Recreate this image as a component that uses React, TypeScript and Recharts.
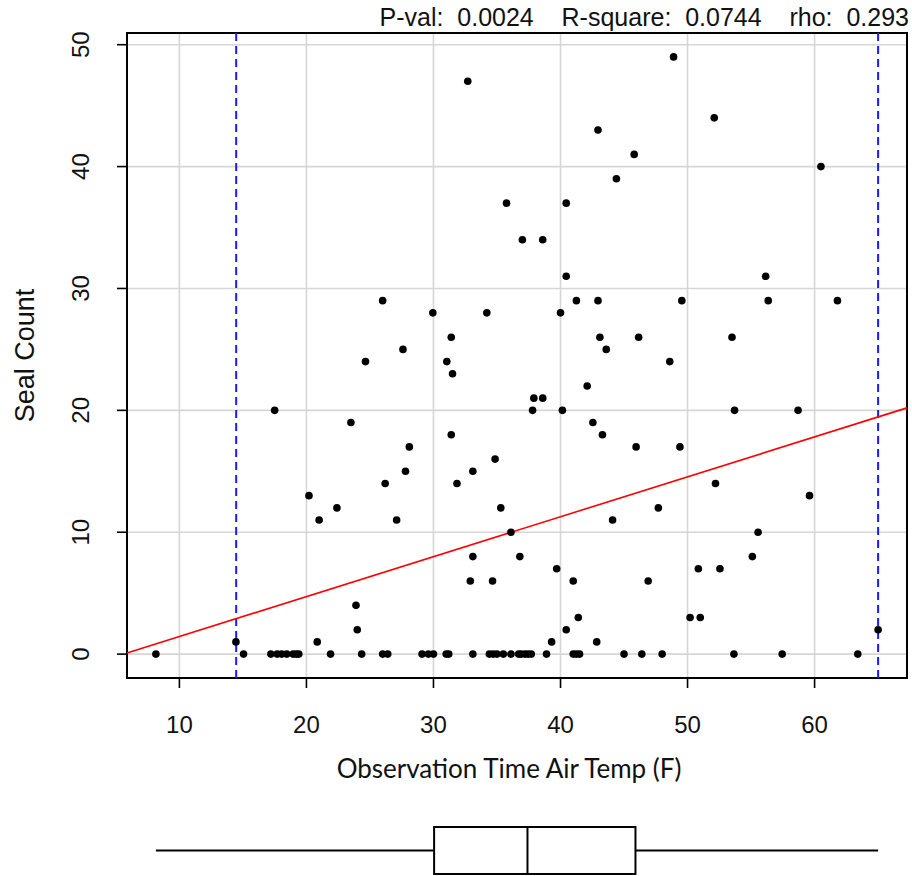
import React from 'react';
import {
  ScatterChart,
  Scatter,
  XAxis,
  YAxis,
  CartesianGrid,
  ReferenceLine,
  ReferenceArea,
  Label,
} from 'recharts';

// ---- data ----
const zeroTemps = [
  8.15, 15.05, 17.2, 17.7, 18.05, 18.45, 18.95, 19.2, 19.4, 21.9, 24.35, 26.0, 26.4,
  29.1, 29.6, 30.0, 31.0, 31.2, 33.1, 34.4, 34.7, 35.0, 35.5, 36.1, 36.7, 36.9, 37.2,
  37.45, 37.7, 38.9, 41.0, 41.25, 41.5, 45.0, 46.4, 48.0, 53.65, 57.45, 63.4,
];

const tempF = [
  48.9, 32.7, 52.1, 42.95, 45.8, 60.5, 44.4, 35.75, 40.45, 37.0, 38.6, 40.45, 56.15,
  26.0, 41.25, 42.95, 49.55, 56.35, 61.8, 29.95, 34.2, 40.0, 31.4, 43.1, 46.15, 53.5,
  27.6, 43.6, 24.65, 31.05, 48.6, 31.5, 42.1, 37.9, 38.6, 17.5, 37.8, 40.15, 53.7, 58.7,
  23.5, 42.55, 31.4, 43.3, 28.1, 45.95, 49.4, 34.85, 27.8, 33.1, 26.2, 31.85, 52.2,
  20.2, 59.6, 22.4, 35.3, 47.7, 21.0, 27.1, 44.1, 36.1, 55.55, 33.1, 36.8, 55.1,
  39.7, 50.85, 52.55, 32.9, 34.65, 41.0, 46.9, 23.9, 41.4, 50.2, 51.0, 24.0, 40.45, 65.0,
  14.45, 20.85, 39.3, 42.85,
];

const sealCount = [
  49, 47, 44, 43, 41, 40, 39, 37, 37, 34, 34, 31, 31,
  29, 29, 29, 29, 29, 29, 28, 28, 28, 26, 26, 26, 26,
  25, 25, 24, 24, 24, 23, 22, 21, 21, 20, 20, 20, 20, 20,
  19, 19, 18, 18, 17, 17, 17, 16, 15, 15, 14, 14, 14,
  13, 13, 12, 12, 12, 11, 11, 11, 10, 10, 8, 8, 8,
  7, 7, 7, 6, 6, 6, 6, 4, 3, 3, 3, 2, 2, 2,
  1, 1, 1, 1,
];

const xTicks = [10, 20, 30, 40, 50, 60];
const yTicks = [0, 10, 20, 30, 40, 50];

const fitIntercept = -1.83;
const fitSlope = 0.3275;
const dashedTemps = [14.47, 65.0];

const statsText = 'P-val:  0.0024    R-square:  0.0744    rho:  0.293';
const xTitle = 'Observation Time Air Temp (F)';
const yTitle = 'Seal Count';

const boxMin = 8.15;
const boxQ1 = 30.05;
const boxMedian = 37.4;
const boxQ3 = 45.9;
const boxMax = 65.0;

// ---- derived ----
const allX = [...zeroTemps, ...tempF];
const allY = [...zeroTemps.map(() => 0), ...sealCount];
const points = allX.map((x, i) => ({ x, y: allY[i] }));

const pad = (lo: number, hi: number): [number, number] => {
  const r = hi - lo;
  return [lo - 0.04 * r, hi + 0.04 * r];
};
const xDomain = pad(Math.min(...allX), Math.max(...allX));
const yDomain = pad(Math.min(...allY), Math.max(...allY));

const ARIAL = '"Liberation Sans", Arial, sans-serif';

const Dot = (props: any) => <circle cx={props.cx} cy={props.cy} r={3.8} fill="#000" />;

const XTick = (props: any) => (
  <text
    x={props.x}
    y={props.y + 45}
    textAnchor="middle"
    fontSize={24}
    fontFamily={ARIAL}
    fill="#111"
  >
    {props.payload.value}
  </text>
);

const YTick = (props: any) => (
  <text
    transform={`translate(${props.x - 28},${props.y}) rotate(-90)`}
    textAnchor="middle"
    fontSize={24}
    fontFamily={ARIAL}
    fill="#111"
  >
    {props.payload.value}
  </text>
);

const XTitle = (props: any) => {
  const vb = props.viewBox || { x: 127, y: 678, width: 780, height: 50 };
  return (
    <g>
      <text
        x={vb.x + vb.width / 2 - 8}
        y={vb.y + 100}
        textAnchor="middle"
        fontSize={26}
        fontFamily="Lato, sans-serif"
        fill="#111"
      >
        {xTitle}
      </text>
      <text
        x={vb.x + vb.width + 2}
        y={vb.y - 652}
        textAnchor="end"
        fontSize={25}
        fontFamily={ARIAL}
        fill="#111"
        style={{ whiteSpace: 'pre' }}
      >
        {statsText}
      </text>
    </g>
  );
};

const YTitle = (props: any) => {
  const vb = props.viewBox || { x: 0, y: 33, width: 127, height: 645 };
  const cy = vb.y + vb.height / 2;
  return (
    <text
      transform={`translate(34,${cy}) rotate(-90)`}
      textAnchor="middle"
      fontSize={27}
      fontFamily={ARIAL}
      fill="#111"
    >
      {yTitle}
    </text>
  );
};

export default function App() {
  const fitStart = { x: xDomain[0], y: fitIntercept + fitSlope * xDomain[0] };
  const fitEnd = { x: xDomain[1], y: fitIntercept + fitSlope * xDomain[1] };
  return (
    <div style={{ position: 'absolute', left: 0, top: 0, width: 912, height: 876, background: '#fff' }}>
      <div style={{ position: 'absolute', left: 0, top: 0 }}>
        <ScatterChart width={912} height={876} margin={{ top: 33, right: 5, bottom: 148, left: 0 }}>
          <CartesianGrid stroke="#d6d6d6" strokeWidth={1.6} />
          <XAxis
            type="number"
            dataKey="x"
            domain={xDomain}
            ticks={xTicks}
            allowDataOverflow
            height={50}
            tickSize={10}
            tickMargin={0}
            axisLine={false}
            tickLine={{ stroke: '#000', strokeWidth: 1.6 }}
            tick={<XTick />}
          >
            <Label content={<XTitle />} />
          </XAxis>
          <YAxis
            type="number"
            dataKey="y"
            domain={yDomain}
            ticks={yTicks}
            allowDataOverflow
            width={127}
            tickSize={10}
            tickMargin={0}
            axisLine={false}
            tickLine={{ stroke: '#000', strokeWidth: 1.6 }}
            tick={<YTick />}
          >
            <Label content={<YTitle />} />
          </YAxis>
          <ReferenceArea
            x1={xDomain[0]}
            x2={xDomain[1]}
            y1={yDomain[0]}
            y2={yDomain[1]}
            fill="none"
            fillOpacity={0}
            stroke="#000"
            strokeWidth={2}
          />
          {dashedTemps.map((t) => (
            <ReferenceLine key={t} x={t} stroke="#1a1aff" strokeWidth={2} strokeDasharray="8 5" />
          ))}
          <ReferenceLine segment={[fitStart, fitEnd]} stroke="#ff0000" strokeWidth={1.6} />
          <Scatter data={points} shape={<Dot />} isAnimationActive={false} />
        </ScatterChart>
      </div>
      <div style={{ position: 'absolute', left: 0, top: 820 }}>
        <ScatterChart width={912} height={56} margin={{ top: 7, right: 5, bottom: 2, left: 127 }}>
          <XAxis type="number" dataKey="x" domain={xDomain} hide allowDataOverflow />
          <YAxis type="number" dataKey="y" domain={[0, 1]} hide allowDataOverflow />
          <ReferenceLine segment={[{ x: boxMin, y: 0.5 }, { x: boxQ1, y: 0.5 }]} stroke="#000" strokeWidth={2} />
          <ReferenceLine segment={[{ x: boxQ3, y: 0.5 }, { x: boxMax, y: 0.5 }]} stroke="#000" strokeWidth={2} />
          <ReferenceArea x1={boxQ1} x2={boxQ3} y1={0} y2={1} fill="#fff" fillOpacity={1} stroke="#000" strokeWidth={2} />
          <ReferenceLine segment={[{ x: boxMedian, y: 0 }, { x: boxMedian, y: 1 }]} stroke="#000" strokeWidth={2} />
          <Scatter data={[]} isAnimationActive={false} />
        </ScatterChart>
      </div>
    </div>
  );
}
